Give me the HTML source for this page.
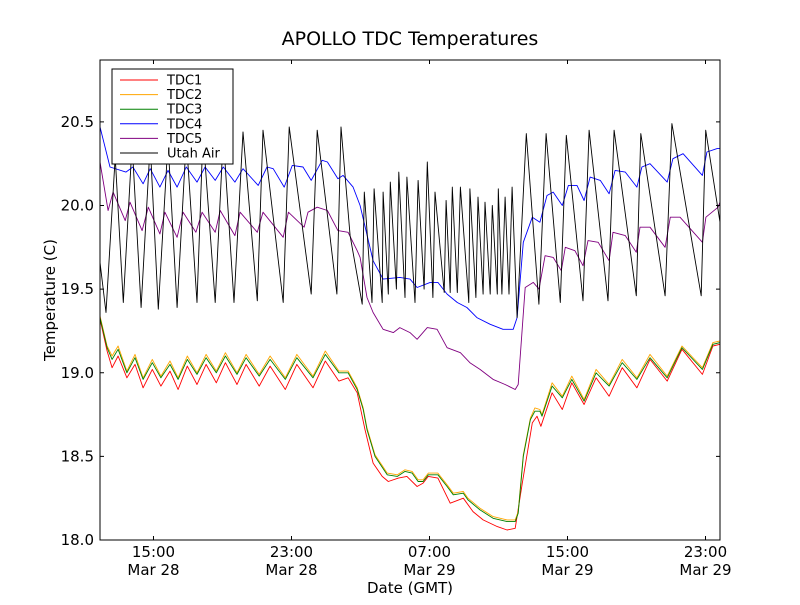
<!DOCTYPE html>
<html><head><meta charset="utf-8"><style>
body{margin:0;background:#fff;}
svg text{font-family:"DejaVu Sans","Liberation Sans",sans-serif;}
</style></head><body>
<svg id="chart" width="800" height="600" xmlns="http://www.w3.org/2000/svg">
<rect width="800" height="600" fill="#fff"/>
<text x="410" y="45" font-size="19" text-anchor="middle">APOLLO TDC Temperatures</text>
<g id="plot"></g>
<g id="axes"></g>
<text x="410" y="593" font-size="15" text-anchor="middle">Date (GMT)</text>
<text x="0" y="0" font-size="15" text-anchor="middle" transform="translate(55,300) rotate(-90)">Temperature (C)</text>
<g id="legend"></g>
</svg>
<script>
// time in hours since Mar 28 00:00 GMT; temperatures in °C
const yTicks = [18.0, 18.5, 19.0, 19.5, 20.0, 20.5];
const xTicks = [15, 23, 31, 39, 47];
const xTickTimes = ["15:00", "23:00", "07:00", "15:00", "23:00"];
const xTickDates = ["Mar 28", "Mar 28", "Mar 29", "Mar 29", "Mar 29"];
const seriesNames = ["TDC1", "TDC2", "TDC3", "TDC4", "TDC5", "Utah Air"];

const tLow = [11.90,12.31,12.60,12.95,13.46,13.93,14.40,14.93,15.43,15.96,16.43,16.96,17.52,18.05,18.64,19.17,19.84,20.37,21.13,21.76,22.64,23.31,24.25,24.96,25.75,26.28,26.81,27.16,27.38,27.84,28.55,29.14,29.58,29.99,30.34,30.63,30.93,31.49,32.02,32.38,32.96,33.23,33.93,34.69,35.50,35.97,36.14,36.44,36.85,37.11,37.40,37.52,38.11,38.70,39.25,39.96,40.66,41.41,42.17,43.02,43.78,44.78,45.64,46.82,47.43,47.84];
const tdc3 = [19.33,19.15,19.08,19.14,19.00,19.09,18.96,19.06,18.97,19.05,18.96,19.08,18.99,19.09,19.00,19.10,18.99,19.09,18.98,19.08,18.96,19.09,18.97,19.11,19.00,19.00,18.90,18.78,18.66,18.50,18.39,18.38,18.41,18.40,18.35,18.35,18.39,18.39,18.32,18.27,18.28,18.24,18.18,18.13,18.11,18.11,18.16,18.50,18.72,18.77,18.77,18.74,18.92,18.85,18.96,18.83,19.00,18.92,19.06,18.96,19.09,18.97,19.15,19.02,19.17,19.18];
const tdc2 = [19.34,19.16,19.10,19.16,19.01,19.11,18.97,19.08,18.98,19.07,18.97,19.10,19.00,19.11,19.01,19.12,19.00,19.11,18.99,19.10,18.97,19.11,18.98,19.13,19.01,19.01,18.91,18.79,18.67,18.51,18.40,18.39,18.42,18.41,18.36,18.36,18.40,18.40,18.33,18.28,18.29,18.25,18.19,18.14,18.12,18.12,18.17,18.51,18.73,18.79,18.78,18.75,18.94,18.86,18.98,18.84,19.02,18.93,19.08,18.97,19.11,18.98,19.16,19.03,19.18,19.19];
const tRed = [11.90,12.31,12.60,12.95,13.46,13.93,14.40,14.93,15.43,15.96,16.43,16.96,17.52,18.05,18.64,19.17,19.84,20.37,21.13,21.76,22.64,23.31,24.25,24.96,25.75,26.28,26.81,27.26,27.73,28.26,28.61,29.20,29.69,30.28,30.63,30.93,31.49,32.20,32.96,33.52,34.11,34.93,35.50,35.97,36.38,36.96,37.23,37.46,38.11,38.70,39.25,39.96,40.66,41.41,42.17,43.02,43.78,44.78,45.64,46.82,47.43,47.84];
const tdc1 = [19.32,19.13,19.03,19.10,18.97,19.05,18.91,19.02,18.92,19.01,18.90,19.04,18.93,19.05,18.94,19.06,18.93,19.05,18.92,19.04,18.90,19.05,18.91,19.07,18.95,18.97,18.88,18.66,18.46,18.38,18.35,18.37,18.38,18.32,18.34,18.38,18.37,18.22,18.25,18.17,18.12,18.08,18.06,18.07,18.34,18.70,18.74,18.68,18.88,18.78,18.94,18.81,18.97,18.86,19.03,18.91,19.08,18.95,19.14,18.99,19.16,19.17];
const tBlue = [11.90,12.48,13.40,13.81,14.40,14.81,15.37,15.84,16.37,16.90,17.52,17.99,18.58,19.05,19.72,20.19,21.07,21.58,21.94,22.58,23.05,23.67,24.14,24.78,25.08,25.69,25.99,26.57,26.98,27.73,28.31,29.28,29.87,30.28,31.04,31.49,32.02,32.61,33.17,33.75,34.52,35.26,35.85,36.08,36.44,36.96,37.40,37.81,38.17,38.70,39.05,39.55,39.96,40.31,40.90,41.41,41.76,42.35,43.02,43.31,43.78,44.78,45.11,45.70,46.82,47.08,47.67,47.84];
const tdc4 = [20.47,20.23,20.20,20.23,20.13,20.22,20.11,20.21,20.11,20.23,20.14,20.23,20.15,20.23,20.14,20.22,20.12,20.23,20.22,20.11,20.24,20.23,20.15,20.27,20.26,20.16,20.18,20.11,20.00,19.67,19.56,19.57,19.56,19.51,19.54,19.54,19.47,19.42,19.39,19.33,19.29,19.26,19.26,19.33,19.78,19.93,19.90,20.06,20.08,20.00,20.12,20.12,20.03,20.17,20.15,20.07,20.21,20.20,20.11,20.23,20.25,20.14,20.28,20.31,20.18,20.32,20.34,20.34];
const tPurple = [11.90,12.37,12.66,13.36,13.64,14.34,14.70,15.37,15.66,16.37,16.72,17.46,17.82,18.58,18.87,19.72,20.02,21.02,21.35,22.52,22.82,23.73,23.96,24.49,25.08,25.69,26.28,26.81,26.98,27.38,27.73,28.31,28.90,29.28,29.87,30.28,30.87,31.44,32.02,32.79,33.34,33.93,34.69,35.38,35.97,36.14,36.38,36.55,37.02,37.35,37.70,38.17,38.64,38.87,39.43,39.90,40.19,40.78,41.41,41.64,42.35,42.99,43.20,43.78,44.66,44.96,45.52,46.82,47.02,47.73,47.84];
const tdc5 = [20.26,19.97,20.08,19.91,20.02,19.85,19.99,19.83,19.96,19.81,19.96,19.84,19.96,19.84,19.97,19.82,19.96,19.84,19.96,19.81,19.96,19.87,19.96,19.99,19.97,19.85,19.84,19.73,19.69,19.45,19.36,19.26,19.24,19.27,19.24,19.20,19.27,19.26,19.15,19.12,19.06,19.02,18.96,18.93,18.90,18.93,19.27,19.51,19.54,19.50,19.70,19.69,19.61,19.75,19.73,19.64,19.79,19.78,19.67,19.84,19.82,19.72,19.87,19.87,19.75,19.93,19.93,19.78,19.93,19.99,20.02];
const tAir = [11.90,12.25,12.78,13.25,13.76,14.28,14.81,15.28,15.84,16.37,16.90,17.52,17.87,18.58,19.05,19.67,20.19,21.02,21.35,22.52,22.87,24.14,24.49,25.63,25.87,26.40,27.10,27.22,27.67,27.79,28.26,28.31,28.61,28.73,29.08,29.22,29.58,29.69,30.16,30.34,30.69,30.87,31.20,31.32,31.85,31.96,32.20,32.32,32.61,32.79,33.28,33.34,33.69,33.81,34.11,34.22,34.52,34.64,34.93,34.99,35.20,35.38,35.61,35.79,36.08,36.61,37.34,37.76,38.58,38.93,39.90,40.25,41.35,41.70,42.99,43.25,44.66,45.05,46.75,47.01,47.84];
const utahAir = [19.66,19.36,20.29,19.42,20.37,19.39,20.37,19.38,20.38,19.39,20.40,19.42,20.43,19.42,20.42,19.42,20.44,19.43,20.45,19.42,20.47,19.47,20.45,19.47,20.47,19.82,19.41,20.08,19.42,20.10,19.42,20.08,19.47,20.14,19.50,20.20,19.45,20.17,19.42,20.15,19.50,20.26,19.45,20.08,19.48,20.03,19.48,20.11,19.48,20.11,19.42,20.10,19.45,20.05,19.47,20.02,19.47,20.00,19.47,20.10,19.47,20.05,19.47,20.11,19.33,20.43,19.41,20.43,19.42,20.42,19.43,20.45,19.43,20.45,19.46,20.43,19.46,20.49,19.46,20.45,19.90];

const L=100,R=720,T=60,B=540, tMin=11.90, tMax=47.84, vMin=18.0, vMax=20.87;
const X = t => L + (t - tMin) / (tMax - tMin) * (R - L);
const Y = v => B - (v - vMin) / (vMax - vMin) * (B - T);
const NS="http://www.w3.org/2000/svg";
function mk(tag, attrs, parent){const e=document.createElementNS(NS,tag);for(const k in attrs)e.setAttribute(k,attrs[k]);parent.appendChild(e);return e;}
const plot=document.getElementById('plot'), axes=document.getElementById('axes'), legend=document.getElementById('legend');
const cp=mk('clipPath',{id:'clip'},plot);
mk('rect',{x:L,y:T,width:R-L,height:B-T},cp);

const series=[
 {name:'tdc1-line',t:tRed,v:tdc1,c:'#ff0000'},
 {name:'tdc2-line',t:tLow,v:tdc2,c:'#ffa500'},
 {name:'tdc3-line',t:tLow,v:tdc3,c:'#008000'},
 {name:'tdc4-line',t:tBlue,v:tdc4,c:'#0000ff'},
 {name:'tdc5-line',t:tPurple,v:tdc5,c:'#800080'},
 {name:'utah-air-line',t:tAir,v:utahAir,c:'#000000'}];
series.forEach(s=>{
 const d=s.t.map((t,i)=>(i?'L':'M')+X(t).toFixed(1)+','+Y(s.v[i]).toFixed(1)).join('');
 const p=mk('path',{d:d,fill:'none',stroke:s.c,'stroke-width':0.9,'stroke-linejoin':'round','clip-path':'url(#clip)'},plot);
 
 
});

const frame=mk('rect',{x:L,y:T,width:R-L,height:B-T,fill:'none',stroke:'#000','stroke-width':1},axes);


yTicks.forEach(v=>{
 const y=Y(v);
 mk('line',{x1:L,x2:L+4,y1:y,y2:y,stroke:'#000'},axes);
 mk('line',{x1:R-4,x2:R,y1:y,y2:y,stroke:'#000'},axes);
 const tx=mk('text',{x:L-6,y:y+5,'font-size':15,'text-anchor':'end'},axes);
 tx.textContent=v.toFixed(1);
 
 
});
xTicks.forEach((t,i)=>{
 const x=X(t);
 mk('line',{x1:x,x2:x,y1:B,y2:B-4,stroke:'#000'},axes);
 mk('line',{x1:x,x2:x,y1:T,y2:T+4,stroke:'#000'},axes);
 const a=mk('text',{x:x,y:557,'font-size':15,'text-anchor':'middle'},axes);
 a.textContent=xTickTimes[i];
 
 
 const b=mk('text',{x:x,y:575,'font-size':15,'text-anchor':'middle'},axes);
 b.textContent=xTickDates[i];
 
 
});

const box=mk('rect',{x:112,y:69,width:121,height:95,fill:'#fff',stroke:'#000','stroke-width':1},legend);


seriesNames.forEach((n,i)=>{
 const y=80+i*14.6;
 const g=mk('g',{},legend);
 
 
 mk('line',{x1:120,x2:158,y1:y,y2:y,stroke:series[i].c,'stroke-width':1},g);
 const tx=mk('text',{x:167,y:y+4.5,'font-size':13},g);
 tx.textContent=n;
});
</script>
</body></html>
